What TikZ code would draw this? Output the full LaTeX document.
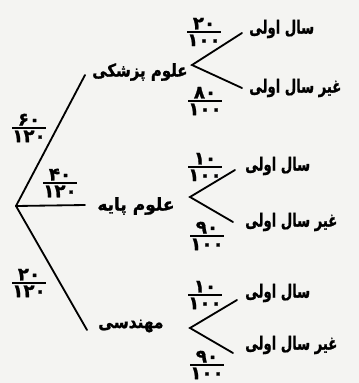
\documentclass[tikz,border=0pt]{standalone}
\usepackage{fontspec}
\usepackage{amsmath}
\usepackage{graphicx}
\newfontfamily\farsifont[Script=Arabic,FakeBold=1.2]{DejaVu Sans Bold}
\TeXXeTstate=1
\usetikzlibrary{positioning, calc}
\definecolor{paper}{HTML}{F4F4F2}
\newcommand{\fa}[2][1]{\scalebox{#1}[1]{\beginR #2\endR}}
\newcommand{\pdig}{\farsifont\fontsize{13}{15}\selectfont}
\newcommand{\pfrac}[2]{$\genfrac{}{}{1.2pt}{}{\hbox{\pdig #1}}{\hbox{\pdig #2}}$}

\begin{document}
\begin{tikzpicture}[
  x=0.025cm, y=-0.025cm,
  cat/.style={anchor=west, inner sep=0pt,
    font=\farsifont\fontsize{12.5}{14}\selectfont},
  leaf/.style={cat, font=\farsifont\fontsize{13}{15}\selectfont},
  prob/.style={inner sep=0pt},
  branch/.style={line width=1.3pt, line cap=round}
]
  \fill[paper] (0,0) rectangle (359,383);
  \useasboundingbox (0,0) rectangle (359,383);

  % first level
  \coordinate (root) at (16,206);
  \coordinate (e1) at (85,75);
  \coordinate (e2) at (85,205);
  \coordinate (e3) at (87,330);
  \node[cat] (med) at (92,72) {\fa[0.85]{علوم پزشکی}};
  \node[cat] (basic) at (97,206) {\fa[0.97]{علوم پایه}};
  \node[cat] (eng) at (98,326) {\fa[0.87]{مهندسی}};
  \foreach \e in {e1,e2,e3}
    \draw[branch] (root) -- (\e);
  \node[prob] (p1) at (29,128) {\pfrac{۶۰}{۱۲۰}};
  \node[prob] (p2) at (60,183) {\pfrac{۴۰}{۱۲۰}};
  \node[prob] (p3) at (29,283) {\pfrac{۲۰}{۱۲۰}};

  % second level
  \coordinate (v1) at (192,65);
  \coordinate (v2) at (190,197);
  \coordinate (v3) at (190,328);
  \coordinate (u1) at (242,33);
  \coordinate (d1) at (242,88);
  \coordinate (u2) at (235,170);
  \coordinate (d2) at (233,222);
  \coordinate (u3) at (237,300);
  \coordinate (d3) at (233,353);
  \foreach \i in {1,2,3} {
    \draw[branch] (u\i) -- (v\i) -- (d\i);
  }
  \node[leaf] (first1) at (249,29) {\fa[0.72]{سال اولی}};
  \node[leaf] (other1) at (249,88) {\fa[0.72]{غیر سال اولی}};
  \node[leaf] (first2) at (245,166) {\fa[0.72]{سال اولی}};
  \node[leaf] (other2) at (245,222) {\fa[0.72]{غیر سال اولی}};
  \node[leaf] (first3) at (245,293) {\fa[0.72]{سال اولی}};
  \node[leaf] (other3) at (245,345) {\fa[0.72]{غیر سال اولی}};
  \node[prob] (q1) at (204,32) {\pfrac{۲۰}{۱۰۰}};
  \node[prob] (r1) at (205,101) {\pfrac{۸۰}{۱۰۰}};
  \node[prob] (q2) at (205,167) {\pfrac{۱۰}{۱۰۰}};
  \node[prob] (r2) at (207,236) {\pfrac{۹۰}{۱۰۰}};
  \node[prob] (q3) at (205,295) {\pfrac{۱۰}{۱۰۰}};
  \node[prob] (r3) at (207,365) {\pfrac{۹۰}{۱۰۰}};
\end{tikzpicture}
\end{document}
